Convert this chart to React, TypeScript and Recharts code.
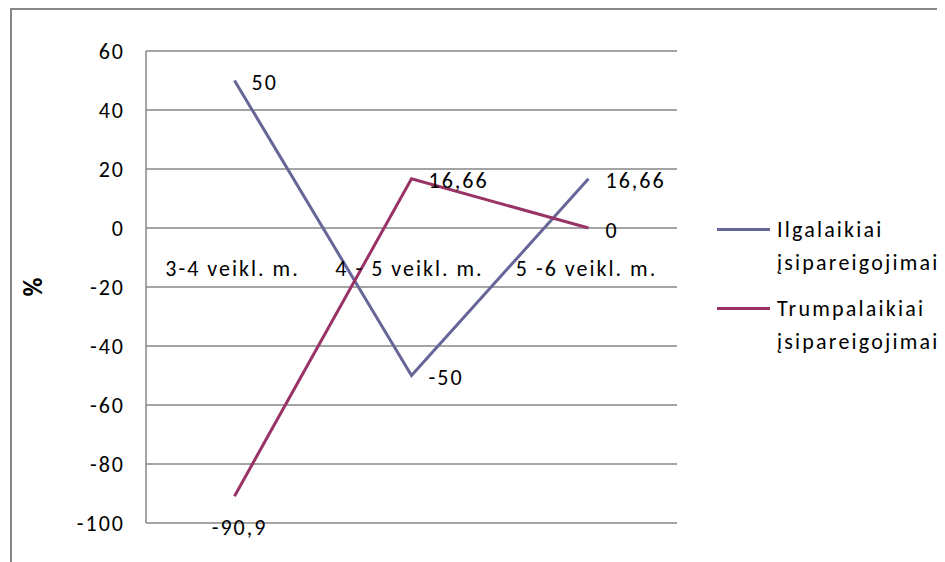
import { LineChart, Line, XAxis, YAxis, CartesianGrid } from 'recharts';

const categories = ['3-4 veikl. m.', '4 - 5 veikl. m.', '5 -6 veikl. m.'];
const ilgalaikiai = [50, -50, 16.66];
const trumpalaikiai = [-90.9, 16.66, 0];
const yTicks = [-100, -80, -60, -40, -20, 0, 20, 40, 60];

const data = categories.map((name, i) => ({
  name,
  ilg: ilgalaikiai[i],
  trump: trumpalaikiai[i],
}));

const FONT = 'Carlito, Calibri, Lato, sans-serif';
const FS = 22;
const LS = 2; // Excel's loose glyph spacing
const GRID = '#868686';
const COLORS = { ilg: '#666699', trump: '#993366' };

const W = 929;
const H = 554;
const MARGIN = { top: 43, right: 260, left: 0, bottom: 9 };
const Y_AXIS_W = 138;
const X_AXIS_H = 30;
const plotW = W - MARGIN.left - MARGIN.right - Y_AXIS_W;
const plotH = H - MARGIN.top - MARGIN.bottom - X_AXIS_H;
const halfBand = plotW / categories.length / 2;
// y pixel of value 0, where Excel puts the category labels
const zeroY = MARGIN.top + (60 / 160) * plotH;

const fmt = (v: number) => String(v).replace('.', ',');

const CategoryTick = (props: any) => {
  const { x, payload } = props;
  return (
    <text x={x - 2} y={zeroY + 40} textAnchor="middle" dominantBaseline="central"
      fontFamily={FONT} fontSize={FS} letterSpacing={LS} fill="#000">
      {payload.value}
    </text>
  );
};

const YTick = (props: any) => {
  const { x, y, payload } = props;
  return (
    <text x={x + LS} y={y} textAnchor="end" dominantBaseline="central"
      fontFamily={FONT} fontSize={FS} letterSpacing={LS} fill="#000">
      {payload.value}
    </text>
  );
};

const YTitle = () => {
  const cx = 25;
  const cy = MARGIN.top + plotH / 2;
  return (
    <text x={cx} y={cy} transform={`rotate(-90, ${cx}, ${cy})`} textAnchor="middle"
      dominantBaseline="central" fontFamily={FONT} fontSize={26} fontWeight="bold" fill="#000">
      %
    </text>
  );
};

const makeLabel = (series: 'ilg' | 'trump') => (props: any) => {
  const { x, y, value, index } = props;
  if (series === 'trump' && index === 0) {
    // lowest point: label sits under the marker
    return (
      <text x={x + 5} y={y + 31} textAnchor="middle" dominantBaseline="central"
        fontFamily={FONT} fontSize={FS} letterSpacing={LS} fill="#000">{fmt(value)}</text>
    );
  }
  return (
    <text x={x + 17} y={y + 2} textAnchor="start" dominantBaseline="central"
      fontFamily={FONT} fontSize={FS} letterSpacing={LS} fill="#000">{fmt(value)}</text>
  );
};

const LegendBox = () => {
  const items = [
    { color: COLORS.ilg, lines: ['Ilgalaikiai', 'įsipareigojimai'] },
    { color: COLORS.trump, lines: ['Trumpalaikiai', 'įsipareigojimai'] },
  ];
  return (
    <div style={{
      position: 'absolute', left: 709, top: 205, width: 228,
      fontFamily: FONT, fontSize: FS, color: '#000', letterSpacing: 2.2, whiteSpace: 'nowrap',
    }}>
      {items.map((it, i) => (
        <div key={i} style={{ display: 'flex', alignItems: 'flex-start', marginBottom: 13 }}>
          <div style={{ width: 53, height: 3, background: it.color, marginTop: 15, marginRight: 7 }} />
          <div style={{ lineHeight: '33px' }}>
            {it.lines.map((l, j) => <div key={j}>{l}</div>)}
          </div>
        </div>
      ))}
    </div>
  );
};

export default function App() {
  return (
    <div style={{ position: 'relative', width: W + 8, height: H, overflow: 'hidden' }}>
      <div style={{
        position: 'absolute', left: 2, top: 0, width: 1200, height: 1200,
        border: `2px solid ${GRID}`, boxSizing: 'border-box',
      }} />
      <div style={{ position: 'absolute', left: 0, top: 0 }}>
        <LineChart width={W} height={H} data={data} margin={MARGIN}>
          <CartesianGrid vertical={false} stroke={GRID} strokeWidth={1.5} />
          <XAxis dataKey="name" height={X_AXIS_H} axisLine={false} tickLine={false}
            tick={<CategoryTick />} interval={0}
            padding={{ left: halfBand, right: halfBand }} />
          <YAxis width={Y_AXIS_W} domain={[-100, 60]} ticks={yTicks} interval={0}
            axisLine={{ stroke: GRID, strokeWidth: 1.5 }} tickLine={false}
            tickSize={0} tickMargin={23} tick={<YTick />}
            label={{ content: <YTitle /> }} />
          <Line dataKey="ilg" name="Ilgalaikiai įsipareigojimai" stroke={COLORS.ilg} strokeWidth={3}
            dot={false} activeDot={false} isAnimationActive={false} label={makeLabel('ilg')} />
          <Line dataKey="trump" name="Trumpalaikiai įsipareigojimai" stroke={COLORS.trump} strokeWidth={3}
            dot={false} activeDot={false} isAnimationActive={false} label={makeLabel('trump')} />
        </LineChart>
      </div>
      <LegendBox />
    </div>
  );
}
